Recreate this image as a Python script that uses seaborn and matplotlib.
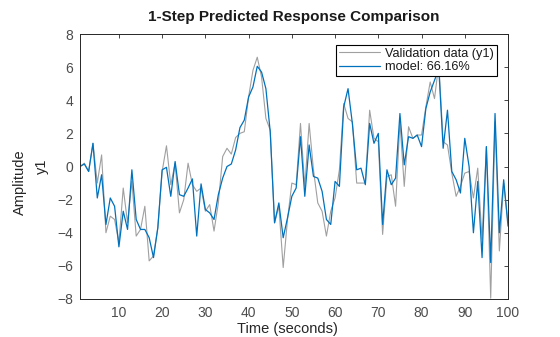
import numpy as np
import pandas as pd
import matplotlib
matplotlib.use("Agg")
import matplotlib.pyplot as plt
import seaborn as sns

time = list(range(1, 101))
validation = [0.0, 0.2, -0.3, 1.4, -1.0, 0.7, -4.0, -3.0, -3.2, -4.6,
              -1.3, -3.4, -0.9, -4.2, -3.8, -2.4, -5.7, -5.4, -3.7, -0.3,
              1.25, -1.1, 0.2, -2.8, -2.0, 0.2, -1.1, -1.5, -1.3, -2.7,
              -2.3, -3.9, -2.2, 0.6, 1.1, 0.75, 1.75, 2.0, 2.1, 4.2,
              5.8, 6.6, 5.4, 2.9, 2.2, -3.4, -2.4, -6.1, -3.2, -1.0,
              -1.1, 2.6, -1.2, 2.6, -0.2, -2.2, -2.7, -4.2, -2.7, -1.9,
              -0.2, 3.8, 2.9, 2.7, -1.0, -1.0, -1.0, 3.4, 1.7, 1.5,
              -4.1, -0.6, -0.5, -2.4, 2.7, -1.2, 2.4, 1.7, 1.9, 1.9,
              3.6, 5.1, 4.1, 6.2, 1.5, 1.3, -0.4, -1.8, -1.2, -0.4,
              -0.3, -1.9, -0.1, -4.4, 1.2, -7.95, 2.7, -5.1, -1.0, -3.4]
model = [0.0, 0.15, -0.3, 1.4, -1.9, -0.5, -3.5, -1.9, -2.4, -4.85,
         -2.7, -3.8, -0.2, -3.2, -3.8, -3.8, -4.3, -5.5, -3.7, -0.2,
         -0.05, -1.8, 0.3, -1.7, -1.8, -1.3, -0.75, -4.2, -1.05, -2.6,
         -2.8, -3.2, -1.7, -0.7, 0.0, 0.15, 1.0, 2.35, 2.8, 4.2,
         4.8, 6.05, 5.7, 4.7, 2.1, -3.4, -2.2, -4.3, -3.1, -1.8,
         -1.3, 1.8, -1.8, 1.3, -0.6, -0.7, -1.5, -3.2, -3.5, -0.9,
         -1.2, 3.6, 4.7, 2.6, -0.2, -0.1, -1.1, 2.6, 1.4, 2.0,
         -3.5, -0.2, -1.1, -0.7, 3.2, 0.1, 1.8, 1.7, 1.9, 1.2,
         3.5, 4.5, 5.2, 5.9, 1.1, 3.4, -0.3, -0.8, -1.6, 1.7,
         0.0, -4.0, -0.9, -5.5, 1.2, -5.8, 3.2, -4.0, -0.8, -3.6]
legend_labels = ["Validation data (y1)", "model: 66.16%"]
x_ticks = [10, 20, 30, 40, 50, 60, 70, 80, 90, 100]
y_ticks = [-8, -6, -4, -2, 0, 2, 4, 6, 8]

sns.set_style("white")
plt.rcParams['font.family'] = ['Liberation Sans', 'DejaVu Sans']

df = pd.DataFrame({"t": time, "val": validation, "model": model})

fig = plt.figure(figsize=(5.6, 3.37), dpi=100)
ax = fig.add_axes([80/560, 1-299/337, 428/560, 265/337])

sns.lineplot(data=df, x="t", y="val", ax=ax, color="#a0a0a0", lw=0.8,
             label=legend_labels[0])
sns.lineplot(data=df, x="t", y="model", ax=ax, color="#0072BD", lw=0.9,
             label=legend_labels[1])

ax.set_xlim(1, 100)
ax.set_ylim(-8, 8)
ax.set_xticks(x_ticks)
ax.set_yticks(y_ticks)
axcol = "#262626"
tickcol = "#4d4d4d"
for s in ax.spines.values():
    s.set_visible(True)
    s.set_color(axcol)
    s.set_linewidth(0.7)
ax.tick_params(direction="in", length=3, width=0.6, colors=axcol,
               labelcolor=tickcol, labelsize=10, top=True, right=True,
               pad=5)
ax.set_xlabel("Time (seconds)", fontsize=10.5, color="#262626", labelpad=-1)
ax.xaxis.set_label_coords(0.485, -0.085)
ax.set_ylabel("y1", fontsize=10.5, color="#262626", labelpad=6)
fig.text(20/560, 1-182/337, "Amplitude", rotation=90, fontsize=10.5,
         color="#262626", ha="center", va="center")
ax.set_title("1-Step Predicted Response Comparison", fontsize=11,
             fontweight="bold", color="#1a1a1a", pad=9)

leg = ax.legend(loc="upper right", bbox_to_anchor=(0.975, 0.96),
                frameon=True, fancybox=False, fontsize=9.2,
                handlelength=3.2, borderpad=0.25, labelspacing=0.1,
                handletextpad=0.4, borderaxespad=0)
leg.get_frame().set_edgecolor("black")
leg.get_frame().set_linewidth(0.8)
leg.get_frame().set_alpha(1)
for txt in leg.get_texts():
    txt.set_color("#1a1a1a")

fig.savefig("out.png", dpi=100)
